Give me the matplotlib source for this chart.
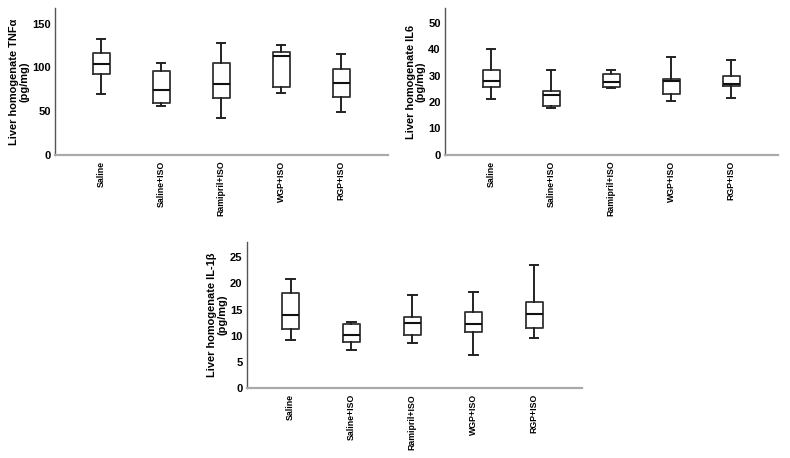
import matplotlib
matplotlib.use('Agg')
import matplotlib.pyplot as plt

plt.rcParams['font.family'] = ['Liberation Sans', 'DejaVu Sans']
plt.rcParams['font.weight'] = 'bold'

groups = ['Saline', 'Saline+ISO', 'Ramipril+ISO', 'WGP+ISO', 'RGP+ISO']

# whisker low, Q1, median, Q3, whisker high
tnf_low = [70.2, 56.1, 42.0, 71.4, 49.2]
tnf_q1 = [93.1, 59.2, 64.9, 78.2, 66.8]
tnf_med = [103.8, 74.4, 80.9, 113.4, 82.1]
tnf_q3 = [116.4, 95.8, 105.0, 117.6, 98.1]
tnf_high = [132.4, 104.6, 128.2, 125.2, 115.3]

il6_low = [21.2, 17.6, 25.2, 20.5, 21.7]
il6_q1 = [25.6, 18.4, 25.8, 23.0, 26.1]
il6_med = [27.8, 22.8, 27.5, 27.8, 26.8]
il6_q3 = [32.2, 24.3, 30.4, 28.7, 30.0]
il6_high = [39.9, 32.2, 32.1, 36.9, 35.8]

il1_low = [9.2, 7.4, 8.7, 6.3, 9.6]
il1_q1 = [11.3, 8.9, 10.1, 10.8, 11.5]
il1_med = [13.9, 10.1, 12.4, 12.2, 14.1]
il1_q3 = [18.2, 12.3, 13.6, 14.6, 16.5]
il1_high = [20.9, 12.7, 17.8, 18.4, 23.4]


def make_stats(low, q1, med, q3, high):
    return [dict(whislo=a, q1=b, med=c, q3=d, whishi=e, fliers=[])
            for a, b, c, d, e in zip(low, q1, med, q3, high)]


def draw(ax, stats, ylabel, yticks, ymax, xlo):
    pos = list(range(len(groups)))
    ax.bxp(stats, positions=pos, widths=0.28, capwidths=0.14,
           showfliers=False, patch_artist=False,
           boxprops=dict(color='#333333', linewidth=1.3),
           medianprops=dict(color='#111111', linewidth=1.5),
           whiskerprops=dict(color='#222222', linewidth=1.4),
           capprops=dict(color='#222222', linewidth=1.4))
    ax.set_xlim(xlo, 4.78)
    ax.set_ylim(0, ymax)
    ax.set_yticks(yticks)
    ax.set_xticks(pos)
    ax.set_xticklabels(groups, rotation=90, fontsize=6.3, fontweight='bold')
    ax.tick_params(axis='both', length=0)
    ax.tick_params(axis='y', labelsize=8, pad=3)
    ax.tick_params(axis='x', pad=4)
    ax.set_ylabel(ylabel, fontsize=7.9, fontweight='bold', labelpad=2,
                  linespacing=1.0)
    for s in ['top', 'right']:
        ax.spines[s].set_visible(False)
    ax.spines['left'].set_color('#555555')
    ax.spines['bottom'].set_color('#aaaaaa')
    ax.spines['left'].set_linewidth(1.0)
    ax.spines['bottom'].set_linewidth(1.6)


fig = plt.figure(figsize=(7.9, 4.58), dpi=100)
ax1 = fig.add_axes([0.0696, 0.6616, 0.4215, 0.321])
ax2 = fig.add_axes([0.5633, 0.6616, 0.4215, 0.321])
ax3 = fig.add_axes([0.3123, 0.152, 0.424, 0.320])

draw(ax1, make_stats(tnf_low, tnf_q1, tnf_med, tnf_q3, tnf_high),
     'Liver homogenate TNFα\n(pg/mg)', [0, 50, 100, 150], 168, -0.77)
draw(ax2, make_stats(il6_low, il6_q1, il6_med, il6_q3, il6_high),
     'Liver homogenate IL6\n(pg/mg)', [0, 10, 20, 30, 40, 50], 55.5, -0.77)
draw(ax3, make_stats(il1_low, il1_q1, il1_med, il1_q3, il1_high),
     'Liver homogenate IL-1β\n(pg/mg)', [0, 5, 10, 15, 20, 25], 27.9, -0.72)

fig.savefig('out.png', dpi=100)
